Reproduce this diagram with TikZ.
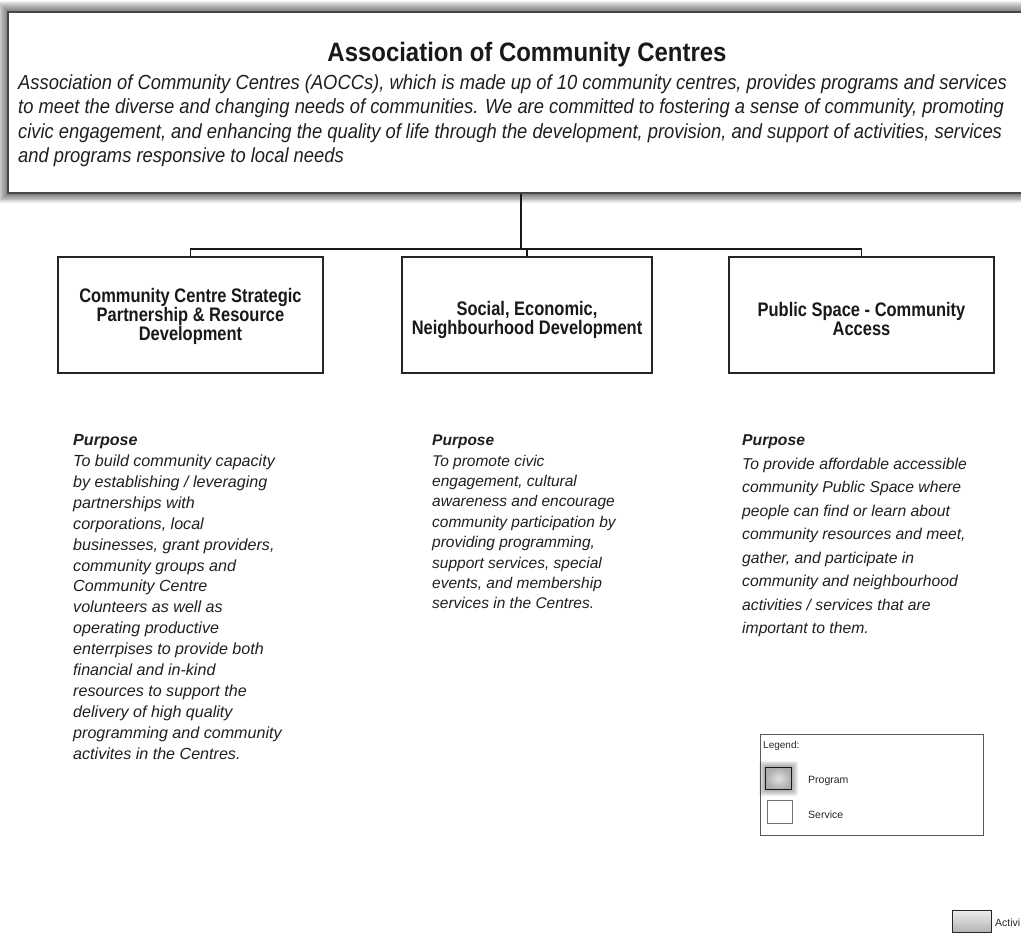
\documentclass[tikz,border=0pt]{standalone}
\usepackage{fontspec}
\setmainfont{Liberation Sans}
\newfontfamily\boxfont[FakeStretch=0.84]{Liberation Sans}
\newfontfamily\descfont[FakeStretch=0.9]{Liberation Sans}
\begin{document}
\begin{tikzpicture}[x=1pt,y=-1pt,
  unitbox/.style={draw=black!85, line width=1.4pt, fill=white, minimum height=116pt, inner sep=0pt},
  unittext/.style={inner sep=0pt, align=center, text=black!90, font=\boxfont\bfseries\fontsize{19.6}{19}\selectfont},
  conn/.style={draw=black!90, line width=1.3pt},
  purp/.style={anchor=north west, inner sep=0pt, align=left, text=black!88},
  legtext/.style={anchor=west, inner sep=0pt, text=black!85, font=\fontsize{10.5}{12}\selectfont}]
\useasboundingbox (0,0) rectangle (1021,936);
\clip (0,0) rectangle (1021,936);
% shadow of the top box
\foreach \k in {1,...,11}
  \fill[black, opacity=0.06] (8-\k,12-\k) rectangle (1045,194+0.8*\k);
\node[draw=black!72, line width=2.8pt, fill=white, inner sep=0pt, minimum width=1032pt, minimum height=181pt] (top) at (524,102.5) {};
\node[anchor=base, inner sep=0pt, text=black!90, font=\descfont\bfseries\fontsize{26.6}{28}\selectfont] (title) at (527,62) {Association of Community Centres};
\node[purp, font=\descfont\itshape\fontsize{20.4}{24.4}\selectfont] (desc) at (18,74.5) {Association of Community Centres (AOCCs), which is made up of 10 community centres, provides programs and services\\to meet the diverse and changing needs of communities. We are committed to fostering a sense of community, promoting\\civic engagement, and enhancing the quality of life through the development, provision, and support of activities, services\\and programs responsive to local needs};
% unit boxes
\node[unitbox, minimum width=265pt] (b1) at (190.5,315) {};
\node[unitbox, minimum width=250pt] (b2) at (527,315) {};
\node[unitbox, minimum width=265pt] (b3) at (861.5,315) {};
\node[unittext] (b1t) at ([yshift=-1.5pt]b1.center) {Community Centre Strategic\\Partnership \& Resource\\Development};
\node[unittext] (b2t) at ([yshift=-5pt]b2.center) {Social, Economic,\\Neighbourhood Development};
\node[unittext] (b3t) at ([yshift=-4pt]b3.center) {Public Space - Community\\Access};
% connectors
\coordinate (j) at (521,249);
\draw[conn] (top.south -| j) -- (j);
\draw[conn] (b1.north) |- (j) -| (b3.north);
\draw[conn] (b2.north) -- (b2.north |- j);
% purposes
\node[purp, font=\itshape\fontsize{16.1}{20.9}\selectfont] (p1) at (73,434.4) {\textbf{Purpose}\\To build community capacity\\by establishing / leveraging\\partnerships with\\corporations, local\\businesses, grant providers,\\community groups and\\Community Centre\\volunteers as well as\\operating productive\\enterrpises to provide both\\financial and in-kind\\resources to support the\\delivery of high quality\\programming and community\\activites in the Centres.};
\node[purp, font=\itshape\fontsize{15.5}{20.4}\selectfont] (p2) at (432,434.8) {\textbf{Purpose}\\To promote civic\\engagement, cultural\\awareness and encourage\\community participation by\\providing programming,\\support services, special\\events, and membership\\services in the Centres.};
\node[purp, font=\itshape\fontsize{15.7}{23.5}\selectfont] (p3) at (742,434.7) {\textbf{Purpose}\\To provide affordable accessible\\community Public Space where\\people can find or learn about\\community resources and meet,\\gather, and participate in\\community and neighbourhood\\activities / services that are\\important to them.};
% legend
\node[draw=black!65, line width=1pt, inner sep=0pt, minimum width=223pt, minimum height=101pt] (leg) at (871.5,784.5) {};
\node[legtext, anchor=base west, font=\fontsize{10}{11}\selectfont] (legt) at (763,748) {Legend:};
\foreach \k in {1,...,6}
  \fill[black, opacity=0.06, rounded corners=2pt] (765-\k,767-\k) rectangle (792+\k,790+\k);
\node[draw=black!90, line width=1.6pt, inner color=gray!25, outer color=gray!65, inner sep=0pt, minimum width=26pt, minimum height=22pt] (prog) at (778.5,778.5) {};
\node[legtext] (progt) at (808,781) {Program};
\node[draw=black!55, line width=1pt, fill=white, inner sep=0pt, minimum width=25pt, minimum height=23pt] (serv) at (779.5,811.5) {};
\node[legtext] (servt) at (808,815) {Service};
% activity item
\node[draw=black!85, line width=1.6pt, top color=gray!15, bottom color=gray!60, inner sep=0pt, minimum width=39pt, minimum height=22pt] (act) at (972,921.5) {};
\node[legtext] (actt) at (995,923) {Activi};
\end{tikzpicture}
\end{document}
